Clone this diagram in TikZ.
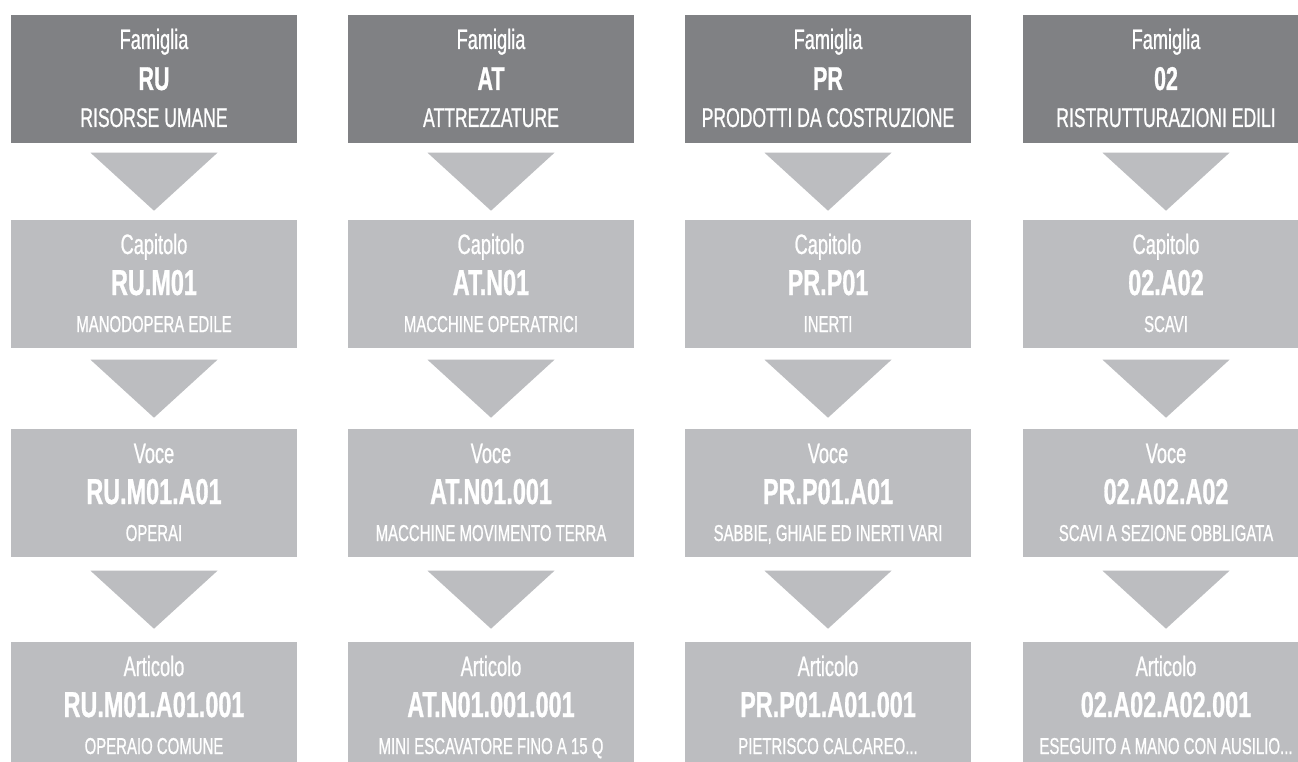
\documentclass[tikz,border=0pt]{standalone}
\usepackage{fontspec}
\setmainfont{Liberation Sans}[FakeStretch=0.65, FakeBold=0.8]
\usetikzlibrary{calc}
\definecolor{boxdark}{RGB}{128,129,132}
\definecolor{boxlight}{RGB}{188,189,192}
\tikzset{
  box/.style={rectangle, inner sep=0pt, minimum width=286pt, minimum height=128pt, anchor=north},
  topbox/.style={box, fill=boxdark},
  subbox/.style={box, fill=boxlight},
  txt/.style={anchor=base, text=white, inner sep=0pt},
  lbl/.style={txt, font=\fontsize{28}{30}\selectfont},
  topcode/.style={txt, font=\fontsize{33}{35}\selectfont\bfseries},
  topdesc/.style={txt, font=\fontsize{27}{29}\selectfont},
  subcode/.style={txt, font=\fontsize{36}{38}\selectfont\bfseries},
  subdesc/.style={txt, font=\fontsize{23}{25}\selectfont},
  tri/.style={fill=boxlight}
}
\newcommand\mkbox[8]{%
  \node[#4] (#1) at (#2,#3) {};
  \node[lbl] (#1l) at ($(#1.north)+(0,34)$) {#5};
  \node[#8code] (#1c) at ($(#1.north)+(0,75)$) {#6};
  \node[#8desc] (#1d) at ($(#1.north)+(0,112)$) {#7};
}
\newcommand\mktri[2]{%
  \fill[tri] ($(#1.south)!0.5!(#2.north)+(-63.5,-29)$) -- ++(127,0)
    -- ($(#1.south)!0.5!(#2.north)+(0,29)$) -- cycle;
}
\begin{document}
\begin{tikzpicture}[x=1pt,y=-1pt]
\useasboundingbox (0,0) rectangle (1298,762);
\clip (0,0) rectangle (1298,762);
\fill[white] (0,0) rectangle (1298,762);
% column 1
\mkbox{a1}{154}{15}{topbox}{Famiglia}{RU}{RISORSE UMANE}{top}
\mkbox{a2}{154}{220}{subbox}{Capitolo}{RU.M01}{MANODOPERA EDILE}{sub}
\mkbox{a3}{154}{429}{subbox}{Voce}{RU.M01.A01}{OPERAI}{sub}
\mkbox{a4}{154}{642}{subbox}{Articolo}{RU.M01.A01.001}{OPERAIO COMUNE}{sub}
\mktri{a1}{a2}\mktri{a2}{a3}\mktri{a3}{a4}
% column 2
\mkbox{b1}{491}{15}{topbox}{Famiglia}{AT}{ATTREZZATURE}{top}
\mkbox{b2}{491}{220}{subbox}{Capitolo}{AT.N01}{MACCHINE OPERATRICI}{sub}
\mkbox{b3}{491}{429}{subbox}{Voce}{AT.N01.001}{MACCHINE MOVIMENTO TERRA}{sub}
\mkbox{b4}{491}{642}{subbox}{Articolo}{AT.N01.001.001}{MINI ESCAVATORE FINO A 15 Q}{sub}
\mktri{b1}{b2}\mktri{b2}{b3}\mktri{b3}{b4}
% column 3
\mkbox{c1}{828}{15}{topbox}{Famiglia}{PR}{PRODOTTI DA COSTRUZIONE}{top}
\mkbox{c2}{828}{220}{subbox}{Capitolo}{PR.P01}{INERTI}{sub}
\mkbox{c3}{828}{429}{subbox}{Voce}{PR.P01.A01}{SABBIE, GHIAIE ED INERTI VARI}{sub}
\mkbox{c4}{828}{642}{subbox}{Articolo}{PR.P01.A01.001}{PIETRISCO CALCAREO...}{sub}
\mktri{c1}{c2}\mktri{c2}{c3}\mktri{c3}{c4}
% column 4
\mkbox{d1}{1166}{15}{topbox}{Famiglia}{02}{RISTRUTTURAZIONI EDILI}{top}
\mkbox{d2}{1166}{220}{subbox}{Capitolo}{02.A02}{SCAVI}{sub}
\mkbox{d3}{1166}{429}{subbox}{Voce}{02.A02.A02}{SCAVI A SEZIONE OBBLIGATA}{sub}
\mkbox{d4}{1166}{642}{subbox}{Articolo}{02.A02.A02.001}{ESEGUITO A MANO CON AUSILIO...}{sub}
\mktri{d1}{d2}\mktri{d2}{d3}\mktri{d3}{d4}
\end{tikzpicture}
\end{document}
